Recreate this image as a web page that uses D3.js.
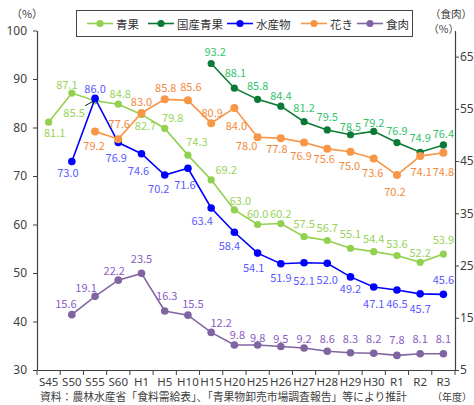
<!DOCTYPE html>
<html>
<head>
<meta charset="utf-8">
<script src="https://cdn.jsdelivr.net/npm/d3@7"></script>
<style>
  body{margin:0;background:#fff;}
  svg text{font-family:'Noto Sans CJK JP','Noto Sans',sans-serif;}
</style>
</head>
<body>
<div class="chart"></div>
<script>
// categories (fiscal years)
const categories = ['S45','S50','S55','S60','H1','H5','H10','H15','H20','H25','H26','H27','H28','H29','H30','R1','R2','R3'];

// series values, null = no data
const seika = [81.1,87.1,85.5,84.8,82.7,79.8,74.3,69.2,63.0,60.0,60.2,57.5,56.7,55.1,54.4,53.6,52.2,53.9];
const kokusanSeika = [null,null,null,null,null,null,null,93.2,88.1,85.8,84.4,81.2,79.5,78.5,79.2,76.9,74.9,76.4];
const suisanbutsu = [null,73.0,86.0,76.9,74.6,70.2,71.6,63.4,58.4,54.1,51.9,52.1,52.0,49.2,47.1,46.5,45.7,45.6];
const kaki = [null,null,79.2,77.6,83.0,85.8,85.6,80.9,84.0,78.0,77.8,76.9,75.6,75.0,73.6,70.2,74.1,74.8];
const shokuniku = [null,15.6,19.1,22.2,23.5,16.3,15.5,12.2,9.8,9.8,9.5,9.2,8.6,8.3,8.2,7.8,8.1,8.1];

// tick labels
const leftTicks = [30,40,50,60,70,80,90,100];
const rightTicks = [5,15,25,35,45,55,65];

// where each value label sits relative to its point [dx,dy]
const nudge = {
    seika:[[6,10],[-5,-9],[-21,11],[2,-11],[4,11],[8,-11],[9,-14],[15,-11],[6,-10],[0,-12],[0,-11],[0,-14],[0,-14],[0,-15],[0,-14],[0,-13],[0,-10],[0,-15]],
    kokusan:[null,null,null,null,null,null,null,[4,-12],[1,-16],[0,-14],[0,-11],[0,-15],[0,-14],[0,-9],[0,-9],[0,-13],[0,-15],[0,-12]],
    suisan:[null,[-4,11],[0,-10],[-2,14],[-3,16],[-6,13],[-3,16],[-9,12],[-5,13],[-4,14],[0,13],[0,17],[0,16],[0,11],[0,16],[0,13],[0,14],[0,-15]],
    kaki:[null,null,[-1,14],[1,-16],[0,-12],[1,-12],[3,-14],[1,-11],[2,17],[-11,8],[-4,10],[-3,12],[-3,9],[-1,13],[-1,13],[-2,16],[1,15],[0,18]],
    niku:[null,[-6,-12],[-9,-9],[-4,-10],[0,-15],[2,-16],[5,-12],[10,-10],[3,-11],[0,-8],[0,-8],[0,-10],[0,-13],[0,-15],[0,-15],[0,-16],[0,-16],[0,-16]]
};

const series = [
    {name:'青果', values:seika, side:'left', color:'#92d050', label:'#98d35a', r:3.6, nudge:nudge.seika},
    {name:'国産青果', values:kokusanSeika, side:'left', color:'#0b7a36', label:'#35c46b', r:3.6, nudge:nudge.kokusan},
    {name:'水産物', values:suisanbutsu, side:'left', color:'#0000ff', label:'#5a5aff', r:3.8, nudge:nudge.suisan},
    {name:'花き', values:kaki, side:'left', color:'#f79646', label:'#f28a3c', r:4, nudge:nudge.kaki},
    {name:'食肉', values:shokuniku, side:'right', color:'#8064a2', label:'#8a5cc4', r:3.8, nudge:nudge.niku}
];

const W = 474, H = 405;
const plot = {l:37, r:455, t:30.5, b:370};
const axisColor = '#404040';

const svg = d3.select('.chart').append('svg')
    .attr('width',W)
    .attr('height',H);

const x = d3.scaleBand()
    .domain(categories)
    .range([plot.l,plot.r])
    .padding(0);
const yL = d3.scaleLinear().domain([30,100]).range([plot.b,plot.t]);
const yR = d3.scaleLinear().domain([5,70]).range([plot.b,plot.t]);
const cx = d => x(d) + x.bandwidth()/2;

//left axis
const gL = svg.append('g')
    .attr('transform',`translate(${plot.l},0)`)
    .call(d3.axisLeft(yL).tickValues(leftTicks).tickSize(4).tickPadding(6).tickSizeOuter(0));
//right axis
const gR = svg.append('g')
    .attr('transform',`translate(${plot.r},0)`)
    .call(d3.axisRight(yR).tickValues(rightTicks).tickSize(4).tickPadding(1).tickSizeOuter(0));
//bottom axis, labels only; ticks go between categories
const gB = svg.append('g')
    .attr('transform',`translate(0,${plot.b})`)
    .call(d3.axisBottom(x).tickSize(0).tickPadding(8).tickSizeOuter(0));

[gL,gR,gB].forEach(g => {
    g.select('.domain').attr('stroke',axisColor).attr('stroke-width',1.2);
    g.selectAll('.tick line').attr('stroke',axisColor);
    g.selectAll('.tick text')
        .attr('fill','#404040')
        .style('font-size','12px')
        .style('font-family',"'Noto Sans',sans-serif");
});
gB.selectAll('.tick text').style('font-size','11.5px');

gB.selectAll('.bnd')
    .data(categories.map(d => x(d)).concat([plot.r]))
    .enter().append('line')
    .attr('x1',d => d).attr('x2',d => d)
    .attr('y1',0).attr('y2',5)
    .attr('stroke',axisColor);

//axis titles
svg.append('text').attr('x',27).attr('y',18).attr('text-anchor','middle')
    .style('font-size','11px').attr('fill','#404040').text('（%）');
svg.append('text').attr('x',472).attr('y',18).attr('text-anchor','end')
    .style('font-size','10.5px').attr('fill','#404040').text('（食肉）');
svg.append('text').attr('x',459).attr('y',33).attr('text-anchor','end')
    .style('font-size','10.5px').attr('fill','#404040').text('（%）');
svg.append('text').attr('x',472).attr('y',401).attr('text-anchor','end')
    .style('font-size','10px').attr('fill','#404040').text('（年度）');

svg.append('text').attr('x',40).attr('y',401)
    .style('font-size','10.8px').attr('fill','#404040')
    .text('資料：農林水産省「食料需給表」、「青果物卸売市場調査報告」等により推計');

//lines + points
series.forEach(s => {
    const y = s.side === 'left' ? yL : yR;
    const pts = categories.map((c,i) => ({c:c, v:s.values[i], i:i})).filter(p => p.v != null);
    s.pts = pts;
    s.y = y;
    const line = d3.line().x(p => cx(p.c)).y(p => y(p.v));
    const g = svg.append('g').attr('class','series');
    g.append('path')
        .datum(pts)
        .attr('d',line)
        .attr('fill','none')
        .attr('stroke',s.color)
        .attr('stroke-width',1.6);
    g.selectAll('circle')
        .data(pts)
        .enter().append('circle')
        .attr('cx',p => cx(p.c))
        .attr('cy',p => y(p.v))
        .attr('r',s.r)
        .attr('fill',s.color);
});

//small pointer from the 85.5 label to its point
const px = cx('S55'), py = yL(seika[2]);
svg.append('line')
    .attr('x1',px-10).attr('y1',py+5)
    .attr('x2',px-2).attr('y2',py+0.5)
    .attr('stroke','#000').attr('stroke-width',0.9);

//value labels
series.forEach(s => {
    svg.append('g').selectAll('text')
        .data(s.pts)
        .enter().append('text')
        .attr('x',p => cx(p.c) + s.nudge[p.i][0])
        .attr('y',p => s.y(p.v) + s.nudge[p.i][1])
        .attr('text-anchor','middle')
        .attr('dominant-baseline','central')
        .attr('fill',s.label)
        .style('font-size','11px')
        .text(p => p.v.toFixed(1));
});

//legend
const legend = svg.append('g');
legend.append('rect')
    .attr('x',76.5).attr('y',10.5)
    .attr('width',336).attr('height',26)
    .attr('fill','#fff')
    .attr('stroke','#444')
    .attr('stroke-width',1);
const legX = [87,148,227,301,357];
series.forEach((s,i) => {
    const item = legend.append('g').attr('transform',`translate(${legX[i]},23.5)`);
    item.append('line').attr('x1',0).attr('x2',26)
        .attr('stroke',s.color).attr('stroke-width',1.6);
    item.append('circle').attr('cx',13).attr('r',3.6).attr('fill',s.color);
    item.append('text').attr('x',29).attr('dominant-baseline','central')
        .style('font-size','11.5px').attr('fill','#333').text(s.name);
});
</script>
</body>
</html>
